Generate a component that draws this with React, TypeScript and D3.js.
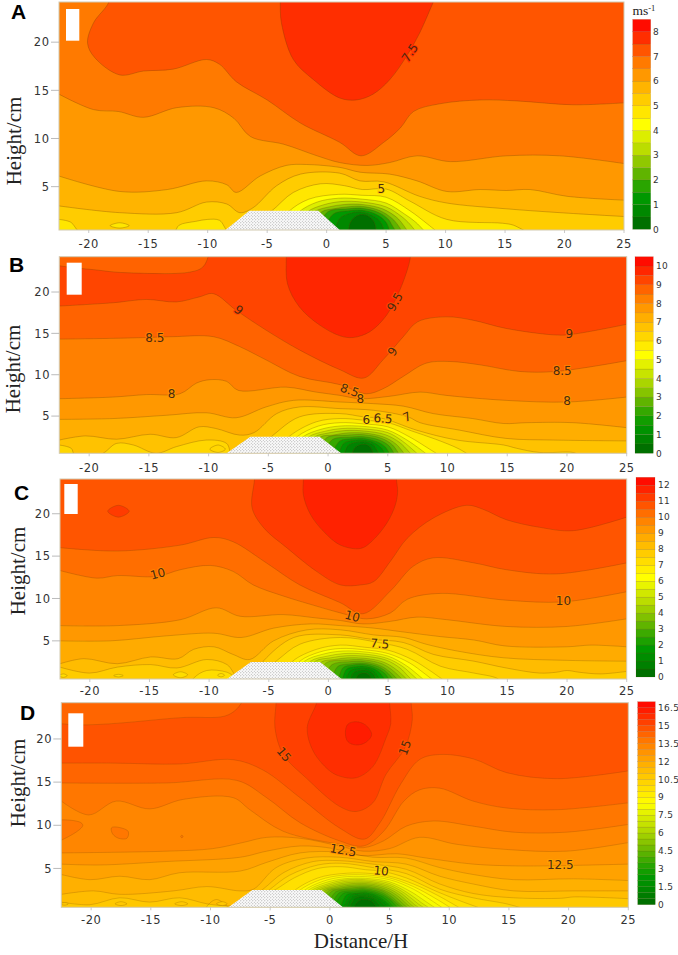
import React from "react";
import * as d3 from "d3";

type P = [number, number];
type Iso = [number, P[]];
type Patch = [number, P[]];
type Lab = [string, number, number, number, number];

const rampColors = ["#007000","#008800","#009800","#2aa500","#60b400","#90c800","#bbdd00","#dcee00","#ffff00","#ffe600","#ffcc00","#ffb400","#ff9800","#ff7a00","#ff5500","#ff2e00","#ff0c00"];
const xTicks = [-20,-15,-10,-5,0,5,10,15,20,25];
const yTicks = [5,10,15,20];
const bump: P[] = [[-8.5,0.5],[-6.5,2.5],[-0.7,2.5],[1.1,0.5]];

const isoA: Iso[] = [
[7.5,[[-3.9,26],[-3.9,24.2],[-3.8,22],[-2.8,18.2],[-1.1,16.1],[1.1,14.2],[2.5,14],[3.9,14.6],[5.3,16.1],[6.7,18.5],[7.8,20.9],[8.7,23.4],[9,24.3],[9.3,26]]],
[7,[[-18.2,26],[-18.3,24.2],[-19.6,22],[-20.1,19.9],[-19.5,18.4],[-17.4,16.6],[-15.4,17],[-12.9,17.2],[-10.1,18.2],[-9,17.7],[-7.6,15.9],[-5,14],[-2.2,11.6],[1.1,9.6],[2.9,8.2],[4.8,9.6],[6.2,11.1],[7.3,12.8],[9.5,13.6],[12.9,14],[16,13.9],[20.7,13.5],[25,13.7]]],
[6.5,[[-22.5,14.6],[-19.6,13],[-17.5,12.8],[-15.4,12.2],[-12.6,13.2],[-9.5,13.2],[-7.8,12.1],[-6.4,10.2],[-3.6,9.4],[-0.8,8.2],[1.1,7.5],[3.4,7.2],[5.3,7.5],[7.6,8.2],[10.4,7.6],[15.1,8.2],[19.6,8.2],[25,7.4]]],
[6,[[-22.5,6.1],[-17.4,4.5],[-13.4,4.7],[-10.1,5.6],[-8.4,5.2],[-7.6,4.4],[-5.6,6.1],[-3.4,7.2],[-1.7,7.3],[1.1,7],[2.8,6.5],[5.3,6.3],[7.6,5.6],[10.1,4.5],[12.9,4.7],[15.1,4.6],[17.1,4.7],[20.2,4],[25,3.6]]],
[5.5,[[-22.5,3],[-17.4,2.3],[-12.6,2.3],[-10.1,3.4],[-8.4,3.2],[-7.3,2.3],[-6.2,2.8],[-4.2,5.1],[-2.2,6.3],[1.1,6.4],[2.8,5.6],[4.8,5.5],[7.8,4],[10.1,3.3],[15.1,2.7],[19.6,2.3],[25,1.9]]],
[5,[[-22.5,1.6],[-21.5,1.3],[-20.8,0.3],[-19,-0.5],[-14,-0.5],[-12.8,0.3],[-12.4,1],[-11,1.4],[-10,1.6],[-9,1.5],[-8.2,0.3],[-6.5,1],[-4.7,2.4],[-2.8,4.4],[-0.5,5.3],[1.5,5.1],[3,4.7],[5,4.75],[7,3.5],[10.1,1.6],[14.8,1.2],[15.7,1],[16.8,0.3]]],
[4.5,[[-4,1],[-3.2,2.4],[-1.5,3.7],[1,4.2],[3,4.1],[5,3.9],[7,2.5],[8.5,1.1],[9.6,0]]],
[4,[[-3.2,1],[-2.3,2.4],[-0.8,3.4],[1,3.8],[3,3.7],[5,3.3],[6.5,2.2],[7.5,1.3],[8.5,0]]],
[3.5,[[-2.5,1],[-1.6,2.4],[-0.3,3.1],[1.2,3.45],[3,3.4],[5,2.9],[6.3,1.9],[7,1.1],[7.7,0]]],
[3,[[-1.8,1],[-1,2.4],[0.2,2.9],[1.5,3.15],[3,3.15],[4.7,2.7],[5.9,1.8],[6.4,1.1],[7,0]]],
[2.5,[[-1.2,1],[-0.4,2.4],[0.6,2.7],[1.7,2.9],[3,2.95],[4.5,2.5],[5.5,1.7],[6,1],[6.5,0]]],
[2,[[-0.6,1],[0.1,2.4],[1.8,2.7],[3,2.75],[4.4,2.3],[5.2,1.6],[5.5,1],[6,0]]],
[1.5,[[-0.1,1],[0.6,2.2],[1.9,2.5],[3,2.55],[4.2,2.1],[5,1.3],[5.4,0]]],
[1,[[0.6,0],[1.1,1.7],[2,2.25],[3,2.35],[4,1.9],[4.6,1.2],[4.9,0]]],
[0.5,[[1.8,0],[2,1.3],[2.5,1.95],[3,2.1],[3.5,1.95],[4,1.3],[4.2,0]]],
];
const patchA: Patch[] = [[4.5,[[-18.2,0.95],[-17.4,1.25],[-16.6,0.95],[-17.4,0.7]]]];
const labelA: Lab[] = [["7.5",7,18.9,-55,7.5],["5",4.6,4.8,0,5]];

const isoB: Iso[] = [
[9.5,[[-3.5,26],[-3.5,24.3],[-3.4,21],[-2.4,18.2],[-0.7,16],[1,14.7],[2.1,14.5],[3.5,15.2],[4.9,17.2],[6,20.2],[6.7,23],[6.9,24.3],[7,26]]],
[9,[[-22.5,18.3],[-18,18.7],[-15.2,19.1],[-12.7,18.8],[-10.8,19.4],[-9.6,19.8],[-7.7,17.8],[-5.2,15.4],[-2.4,13],[1,10.6],[3,9.6],[4.6,11.8],[6.3,14.6],[7.5,16.4],[9.9,17],[12.1,16.6],[14.9,15.6],[19.1,14.8],[20.5,14.9],[25,16.1]]],
[8.5,[[-22.5,14.3],[-18,14.4],[-15.2,14.5],[-13,14.6],[-9.6,14.6],[-7.4,13.4],[-5.2,11.8],[-2.4,9.8],[1,8.8],[3.2,7.7],[4.6,8.3],[6.3,9.8],[8.2,11.4],[10.2,11.6],[12.7,11.2],[16,10.4],[19.1,10.4],[25,11.7]]],
[8,[[-22.5,7.1],[-18,7.3],[-15.2,7.6],[-12.4,7.7],[-11,9],[-9.9,9.4],[-8.5,9.2],[-7.5,8.1],[-3.5,8.5],[-1,7.9],[1,7.5],[2.7,7.1],[5.2,7.4],[7.7,7.9],[9.9,7.5],[14.9,6.9],[20,6.7],[25,7.3]]],
[7.5,[[-22.5,4.6],[-18,4.7],[-13.5,5.1],[-10.2,5.4],[-7.7,4.8],[-5.2,6.1],[-2.9,6.9],[1,6.7],[3.8,6.5],[6.3,6.2],[8.8,5.3],[12.1,4.7],[14.7,4.1],[16.6,4.2],[20.5,4.2],[25,3.6]]],
[7,[[-22.5,2.1],[-20.3,2.6],[-17.7,2.2],[-14.9,2.8],[-12.7,2.4],[-10.8,3.7],[-9.4,3.5],[-7.4,2.7],[-6.2,3],[-4.3,5.3],[-2.4,6.1],[1,5.9],[3.8,5.7],[6.7,4.9],[7.7,4.2],[11,3.3],[14.9,2.3],[18.9,2.1],[25,2]]],
[6.5,[[-22.5,1.5],[-21.5,1.1],[-21.2,0.3],[-19,0.4],[-17.7,1.7],[-16.3,1.5],[-14.4,0.5],[-12.7,1.3],[-10.2,2.1],[-8.5,1.7],[-8,0.3],[-6,1],[-4.6,2.7],[-2.4,4.9],[1,5.3],[3,4.9],[4.6,4.7],[7.4,3.3],[10.8,2.1],[14.7,1.5],[15.8,1.1],[17.7,0.6],[20.5,0.6],[21,0.3]]],
[6,[[-4,1.2],[-3.2,2.6],[-1,4.3],[1,4.7],[3,4.5],[5,4.2],[7,3.2],[9,2.2],[11,1],[12.1,0]]],
[5.5,[[-3.4,1],[-2.6,2.5],[-0.8,3.8],[1,4.2],[3,4.05],[5,3.7],[6.8,2.5],[8.5,1],[9.6,0]]],
[5,[[-3,1],[-2.1,2.5],[-0.6,3.4],[1,3.8],[3,3.75],[5,3.3],[6.5,2.2],[7.8,0.9],[8.6,0]]],
[4.5,[[-2.4,1],[-1.6,2.5],[-0.3,3.15],[1.2,3.5],[3,3.45],[5,3],[6.2,2],[7.2,0.8],[7.8,0]]],
[4,[[-1.9,1],[-1.1,2.5],[0,2.95],[1.4,3.25],[3,3.2],[4.8,2.75],[6,1.8],[6.7,0.8],[7.2,0]]],
[3.5,[[-1.4,1],[-0.6,2.5],[0.4,2.7],[1.5,2.95],[3,2.95],[4.6,2.5],[5.7,1.6],[6.6,0]]],
[3,[[-0.7,1],[-0.1,2.4],[1.6,2.7],[3,2.75],[4.5,2.3],[5.4,1.5],[6.1,0]]],
[2.5,[[-0.2,1],[0.4,2.2],[1.8,2.45],[3,2.5],[4.3,2.1],[5.1,1.4],[5.7,0]]],
[2,[[0.5,1],[1,2],[2,2.25],[3,2.3],[4.1,1.9],[4.8,1.25],[5.3,0]]],
[1.5,[[0.8,0],[1.3,1.7],[2.1,2.05],[3,2.1],[3.9,1.75],[4.5,1.1],[4.9,0]]],
[1,[[1.3,0],[1.7,1.5],[3,1.9],[3.8,1.5],[4.4,0]]],
[0.5,[[1.9,0],[2.3,1.25],[3,1.6],[3.5,1.3],[3.9,0]]],
];
const patchB: Patch[] = [
[8.5,[[-24,24],[-19,22.6],[-16.3,22.3],[-11.6,22.4],[-10.5,23],[-10,24.5],[-10,26],[-24,26]]],
[6,[[-9.9,1],[-9.2,1.5],[-8.6,1],[-9.2,0.6]]],
];
const labelB: Lab[] = [["9",-7.5,17.8,40,9],["8.5",-14.5,14.5,0,8],["8",-13.1,7.7,0,7.5],["9.5",5.6,18.8,-60,9],["9",5.4,12.8,-55,8.5],["8.5",1.8,8.1,20,8],["8",2.7,7.1,0,7.5],["6",3.2,4.5,0,6],["6.5",4.6,4.7,5,6.5],["7",6.6,4.9,-25,7],["9",20.2,14.9,0,8.5],["8.5",19.6,10.4,0,8],["8",20,6.8,0,7.5]];

const isoC: Iso[] = [
[11.5,[[-2.1,26],[-2.1,24.1],[-2.1,22.2],[-1.5,19.9],[-0.4,17.9],[1,16.3],[2.7,15.9],[3.6,16.7],[4.9,18.9],[5.6,21],[5.8,22.6],[5.7,24.1],[5.7,26]]],
[11,[[-6.2,26],[-6.2,24.1],[-6.4,20.7],[-5.4,18.3],[-3.5,16],[-1,13.2],[1,11.6],[2.7,11.6],[3.8,12],[5.2,14.4],[6.6,17.1],[8.8,19.5],[11.6,21],[13,20.5],[14.9,19.3],[17.7,18.4],[20.5,18],[25,19.6]]],
[10.5,[[-22.5,16],[-17.7,15.6],[-12.4,16.3],[-9.6,17.2],[-8,16.7],[-5.2,14.2],[-2.4,11.6],[1,9.5],[2.9,8.2],[5.2,10.9],[7.1,13.8],[8.8,14.8],[12.2,14.2],[14.9,13.4],[19.1,12.9],[25,14.2]]],
[10,[[-22.5,13.3],[-19.4,12.4],[-17.7,12.7],[-14.4,12.6],[-12.4,13.4],[-9.9,13.9],[-8,13.2],[-6.3,11.6],[-3.8,10.3],[-1,9.1],[1,8.3],[3.2,7.6],[5.2,8.3],[6.6,9.9],[9.4,10.6],[14.9,9.8],[19.7,9.6],[25,10.8]]],
[9.5,[[-22.5,6.8],[-17.7,6.8],[-12.4,7.5],[-9.4,8.9],[-7.4,7.9],[-3.8,8.1],[-1,7.7],[1,7.4],[2.9,7],[5.2,7.3],[7.4,7.8],[9.9,7.5],[14.9,6.7],[20,6.7],[25,7.6]]],
[9,[[-22.5,5],[-18.3,5],[-13.5,5.6],[-9.6,5.9],[-7.3,5.4],[-4.6,6.5],[-1.5,7],[1,6.8],[3.8,6.5],[6,6.1],[9.4,5.5],[12.2,5.1],[14.8,4.4],[20,4.3],[22,4.5],[25,4.3]]],
[8.5,[[-22.5,2.3],[-20.5,2.9],[-17.7,2.3],[-14.9,3.1],[-12.6,2.9],[-11.3,4],[-9.6,4.3],[-8,3.4],[-6.6,2.8],[-4.6,5],[-1.8,6.3],[1,6.3],[3.8,5.7],[6.3,5.4],[8.2,4.6],[10.8,3.8],[14.7,3],[20,2.7],[25,2.6]]],
[8,[[-22.5,1.9],[-20,1.2],[-17.7,1.9],[-14.9,2.2],[-12.7,1.8],[-10.2,2.8],[-8.5,2.2],[-7.5,0.6],[-6,1.5],[-5.4,2.7],[-2.9,5.4],[1,5.7],[3.5,5.2],[6.3,4.8],[8.8,3.4],[12.2,2.6],[14.9,1.8],[17.7,1.2],[19.1,1.3],[20,1.5],[21,1.3],[22.8,1.1],[25,1.4]]],
[7.5,[[-22.5,-1],[-12,-1],[-11.3,0.6],[-10.2,1.5],[-8.5,1.3],[-7.6,0.6],[-6,0.8],[-4.3,2.7],[-2.4,4.6],[1,5.4],[4.2,4.8],[6.6,4],[9.4,2],[12.2,1.2],[14.1,0.6],[14.6,0]]],
[7,[[-3.8,1],[-3,2.6],[-1,4],[1,4.5],[3,4.25],[5,3.9],[7,2.8],[8.5,1.5],[10,0]]],
[6.5,[[-3.2,1],[-2.4,2.6],[-0.7,3.7],[1,4.1],[3,3.95],[5,3.5],[6.8,2.4],[8,1.2],[9.1,0]]],
[6,[[-2.8,1],[-2,2.6],[-0.4,3.45],[1.2,3.8],[3,3.7],[5,3.2],[6.5,2.1],[7.5,1],[8.3,0]]],
[5.5,[[-2.3,1],[-1.5,2.6],[-0.1,3.2],[1.3,3.5],[3,3.45],[4.9,2.95],[6.2,2],[7.1,0.9],[7.8,0]]],
[5,[[-1.9,1],[-1.1,2.6],[0.2,3],[1.5,3.25],[3,3.2],[4.8,2.75],[6,1.8],[6.7,0.8],[7.3,0]]],
[4.5,[[-1.4,1],[-0.6,2.5],[0.5,2.8],[1.6,3],[3,2.95],[4.6,2.5],[5.7,1.6],[6.9,0]]],
[4,[[-0.8,1],[-0.2,2.4],[1.7,2.75],[3,2.75],[4.5,2.3],[5.4,1.5],[6.5,0]]],
[3.5,[[-0.2,1],[0.3,2.2],[1.8,2.55],[3,2.55],[4.3,2.1],[5.1,1.4],[6.1,0]]],
[3,[[0.4,1],[0.8,2],[1.9,2.3],[3,2.35],[4.2,1.95],[4.9,1.3],[5.7,0]]],
[2.5,[[0.8,0],[1.2,1.8],[2,2.15],[3,2.2],[4,1.8],[4.7,1.2],[5.3,0]]],
[2,[[1.1,0],[1.5,1.65],[2.2,1.95],[3,2],[3.9,1.65],[4.4,1.1],[4.9,0]]],
[1.5,[[1.4,0],[1.8,1.45],[3,1.8],[3.8,1.45],[4.5,0]]],
[1,[[1.8,0],[2.1,1.25],[3,1.55],[3.7,1.2],[4.1,0]]],
[0.5,[[2.2,0],[2.5,1],[3,1.2],[3.4,1],[3.7,0]]],
];
const patchC: Patch[] = [
[11,[[-18.5,20.3],[-17.6,21],[-16.7,20.3],[-17.6,19.6]]],
[7,[[-22.6,0.9],[-22.2,1.1],[-21.9,0.9],[-22.2,0.7]]],
[7,[[-18,0.9],[-17.6,1.05],[-17.2,0.9],[-17.6,0.75]]],
[7,[[-13,1],[-12.4,1.35],[-11.8,1],[-12.4,0.65]]],
[7,[[-9.3,0.95],[-9,1.15],[-8.7,0.95],[-9,0.75]]],
];
const labelC: Lab[] = [["10",-14.3,12.9,-15,9.5],["10",19.7,9.75,0,9.5],["10",2,7.9,15,9.5],["7.5",4.3,4.65,5,7.5]];

const isoD: Iso[] = [
[15.5,[[-1.1,26],[-1.1,24.3],[-1.9,21.3],[-1.4,18.6],[-0.1,16.4],[0.8,15.7],[2.2,15.5],[3.6,16.8],[4.7,20.1],[5.1,21.8],[5,24.3],[5,26]]],
[15,[[-4.5,26],[-4.5,24.3],[-4.6,21.3],[-3.9,18.2],[-2,15.5],[0.8,12.2],[2.2,11.6],[3.6,12.6],[4.7,15.9],[6.3,19],[6.9,22.2],[6.8,24.3],[6.8,26]]],
[14.5,[[-22.5,17.2],[-18,17.2],[-12.6,17.1],[-8.1,17.6],[-5.6,16.4],[-2.5,13.2],[0.8,9.7],[2.9,8.4],[4.2,10.3],[5.9,14.7],[7.5,17.6],[9.2,18.2],[12,17.7],[14.8,16.1],[19,15.4],[25,16.3]]],
[14,[[-22.5,14.9],[-13.7,14.9],[-7.8,15.2],[-5.3,13.2],[-2.5,10.3],[0.8,8.2],[2.8,7.6],[4.5,9.3],[6.2,12.8],[7.5,14.1],[9.2,14.3],[12,12.8],[14.8,12],[19,11.8],[25,12.6]]],
[13.5,[[-22.5,12.8],[-20.2,11.2],[-17.9,12.8],[-15.1,11.9],[-12.3,13],[-8.1,13.2],[-6.7,11.8],[-3.9,9.3],[0.8,7.8],[2.8,7.4],[4.5,8.2],[6.4,9.9],[8.7,10.5],[12,9.9],[15.4,9.2],[19.8,9.2],[25,10.1]]],
[13,[[-22.5,6.8],[-13.7,7],[-9.8,7.3],[-7.3,8],[-5.3,8.6],[-2.5,8.5],[0.8,7.6],[2.8,7],[5,7.3],[7.5,8.6],[10.6,7.8],[14.8,7.2],[19.8,7],[25,8]]],
[12.5,[[-22.5,5.5],[-19.3,5.4],[-13.7,5.8],[-7.5,6.3],[-5.3,7],[-2.5,7.6],[0.3,7.3],[2.5,6.5],[5.6,6.7],[8.1,6.2],[12,5.5],[15.4,5.3],[18.2,5.3],[25,5.5]]],
[12,[[-22.5,4.3],[-20.1,3.7],[-17.6,4.1],[-15.1,3.7],[-12.6,4.5],[-7.5,4.7],[-5.3,5.7],[-2.5,6.8],[0.8,6.9],[3.6,6.3],[6.4,6.2],[9.2,5.1],[12,4.3],[15.4,3.7],[20.4,3.8],[25,3.6]]],
[11.5,[[-22.5,2],[-19.8,2.4],[-17.6,2],[-13.1,2.4],[-10.3,2.9],[-7.5,2.4],[-6.4,2.6],[-4.5,5.1],[-2,6.2],[0.8,6.3],[3.6,5.8],[6.4,5.5],[9.2,4.1],[12,3.2],[15.4,2.4],[20.4,2.4],[25,2.4]]],
[11,[[-22.5,1.1],[-20.1,0.8],[-17.6,1.6],[-15.1,1.1],[-12.6,1.6],[-10.3,0.9],[-9,0.7],[-7.5,0.8],[-5.6,2.6],[-3.9,4.5],[-1.4,5.8],[0.8,5.9],[3.6,5.5],[6.4,4.9],[9.2,3.2],[12,2.1],[15.4,1.6],[19.4,1.55],[20.4,1.7],[25,1.5]]],
[10.5,[[-22.5,-1],[-10.6,-1],[-10.3,0.6],[-9.5,1.4],[-8.6,0.6],[-7.8,-0.5],[-6,1.5],[-5,2.6],[-3.4,4.2],[-1,5.4],[1,5.6],[3.6,5.1],[6.4,4.4],[9.2,2.6],[12,1.6],[14.8,0.9],[16.1,0.4]]],
[10,[[-22.5,-1],[-8,-1],[-6,1.5],[-4.5,2.6],[-3,3.9],[-1,5],[1,5.2],[3,4.85],[4.3,4.7],[6.4,3.9],[9,2.3],[11,1.2],[12.6,0.4]]],
[9.5,[[-3.8,1],[-3,2.4],[-1,3.9],[1,4.4],[3,4.45],[5,4.1],[7,3.2],[9,1.9],[11.4,0]]],
[9,[[-3.4,1],[-2.6,2.4],[-0.8,3.7],[1,4.2],[3,4.25],[5,3.9],[7,2.9],[9,1.4],[10.6,0]]],
[8.5,[[-3,1],[-2.2,2.4],[-0.6,3.5],[1,4],[3,4.05],[5,3.7],[7,2.6],[8.5,1.3],[9.9,0]]],
[8,[[-2.7,1],[-1.9,2.4],[-0.4,3.35],[1.2,3.8],[3,3.85],[5,3.45],[6.8,2.3],[8,1.2],[9.3,0]]],
[7.5,[[-2.4,1],[-1.6,2.4],[-0.2,3.2],[1.2,3.65],[3,3.7],[5,3.25],[6.5,2.2],[7.7,1],[8.8,0]]],
[7,[[-2.1,1],[-1.3,2.4],[0,3.1],[1.3,3.5],[3,3.55],[5,3.05],[6.3,2.1],[7.4,0.9],[8.4,0]]],
[6.5,[[-1.8,1],[-1,2.4],[0.2,3],[1.4,3.35],[3,3.4],[4.8,2.95],[6.1,2],[7.1,0.8],[8,0]]],
[6,[[-1.5,1],[-0.7,2.4],[0.4,2.9],[1.5,3.2],[3,3.25],[4.7,2.8],[5.9,1.9],[6.8,0.8],[7.6,0]]],
[5.5,[[-1.2,1],[-0.4,2.4],[0.6,2.8],[1.6,3.05],[3,3.1],[4.6,2.65],[5.7,1.8],[6.5,0.8],[7.3,0]]],
[5,[[-0.9,1],[-0.1,2.4],[0.8,2.7],[1.7,2.9],[3,2.95],[4.5,2.5],[5.5,1.7],[6.3,0.7],[7,0]]],
[4.5,[[-0.6,1],[0.2,2.4],[1,2.6],[1.8,2.75],[3,2.8],[4.4,2.4],[5.3,1.6],[6,0.7],[6.7,0]]],
[4,[[-0.1,1],[0.5,2.3],[1.9,2.6],[3,2.65],[4.3,2.25],[5.1,1.55],[5.8,0.7],[6.4,0]]],
[3.5,[[0.2,1],[0.8,2.2],[2,2.45],[3,2.5],[4.2,2.1],[5,1.45],[5.6,0.6],[6.1,0]]],
[3,[[0.5,1],[1.1,2.1],[2,2.3],[3,2.35],[4.1,1.95],[4.8,1.35],[5.3,0.6],[5.8,0]]],
[2.5,[[0.8,0],[1.4,1.95],[2.2,2.15],[3,2.2],[4,1.8],[4.6,1.25],[5.5,0]]],
[2,[[1.1,0],[1.7,1.85],[3,2.05],[3.9,1.7],[4.5,1.15],[5.2,0]]],
[1.5,[[1.3,0],[1.9,1.7],[3,1.9],[3.8,1.55],[4.3,1.05],[4.9,0]]],
[1,[[1.6,0],[2.1,1.55],[3,1.7],[3.7,1.4],[4.5,0]]],
[0.5,[[1.9,0],[2.4,1.25],[3,1.4],[3.5,1.2],[4.1,0]]],
];
const patchD: Patch[] = [
[14,[[-24,22.5],[-12,22.5],[-8.5,22.8],[-7.3,24.5],[-7.3,27],[-24,27]]],
[16,[[2.2,22],[3,21.6],[3.5,20.5],[3,19.6],[2.2,19.3],[1.5,19.7],[1.3,20.7],[1.5,21.7]]],
[13.5,[[-23.5,8],[-21.5,9],[-20.7,10],[-21,10.4],[-23.5,10.3]]],
[13.5,[[-18.3,9.7],[-17.9,9.8],[-16.9,9.3],[-17,8.5],[-17.7,8.5],[-18.2,9]]],
[13.5,[[-12.5,8.7],[-12.4,8.85],[-12.3,8.7],[-12.4,8.55]]],
[10.5,[[-22.6,0.9],[-22.2,1.05],[-21.9,0.9],[-22.2,0.75]]],
[10.5,[[-18,0.9],[-17.5,1.15],[-17,0.9],[-17.5,0.7]]],
[10.5,[[-13,0.9],[-12.4,1.15],[-11.9,0.9],[-12.4,0.7]]],
[10.5,[[-9.5,0.9],[-9,1.15],[-8.6,0.9],[-9,0.7]]],
];
const labelD: Lab[] = [["15",-3.85,18.2,50,14.5],["15",6.3,19,-70,14.5],["12.5",1.1,7.1,10,12.5],["10",4.3,4.7,5,10],["12.5",19.3,5.35,0,12]];

const legendA = [0,1,2,3,4,5,6,7,8];
const legendB = [0,1,2,3,4,5,6,7,8,9,10];
const legendC = [0,1,2,3,4,5,6,7,8,9,10,11,12];
const legendD = [0,1.5,3,4.5,6,7.5,9,10.5,12,13.5,15,16.5];

const panels = [
  {key:"A",iso:isoA,patch:patchA,label:labelA,legend:legendA,max:8.5,L:59,R:624,T:2,B:230,yTop:24.17,box:[66,9,13.3,31.7],lg:[632.7,650.7,19.4,229.3],lgX:653,letter:[11,19],tickY:248,yl:[15,141],yLabX:49.5,lw:0.7},
  {key:"B",iso:isoB,patch:patchB,label:labelB,legend:legendB,max:10.5,L:59.3,R:626.7,T:256.7,B:453.3,yTop:24.27,box:[66.7,262.7,15,32],lg:[635,653.3,256.7,453.3],lgX:656,letter:[9,272],tickY:472,yl:[14,369],yLabX:50,lw:0.65},
  {key:"C",iso:isoC,patch:patchC,label:labelC,legend:legendC,max:12.5,L:60,R:626.7,T:479,B:679,yTop:24.1,box:[64.3,484,13.4,30],lg:[636,655,477.3,677],lgX:658,letter:[14,500],tickY:695,yl:[19,571],yLabX:50.5,lw:0.6},
  {key:"D",iso:isoD,patch:patchD,label:labelD,legend:legendD,max:17,L:61.3,R:628.3,T:702.7,B:907.3,yTop:24.2,box:[68.3,713.3,15,33.4],lg:[637.7,655.3,701.7,904.7],lgX:658,letter:[20,720],tickY:924,yl:[19,783],yLabX:52,lw:0.5},
];

const ramp = d3.scaleLinear<string>()
  .domain(rampColors.map((_, i) => i / (rampColors.length - 1)))
  .range(rampColors);

function bandColor(level: number, max: number) {
  return ramp(level / (max - 0.5));
}

const TICK = '"DejaVu Sans", sans-serif';
const SERIF = '"Liberation Serif", serif';
const LINE = "rgba(105,60,0,0.42)";

function Panel({ p }: { p: (typeof panels)[number] }) {
  const x = d3.scaleLinear().domain([-22.5, 25]).range([p.L, p.R]);
  const y = d3.scaleLinear().domain([0.5, p.yTop]).range([p.B, p.T]);
  const curve = d3.line<P>().x(d => x(d[0])).y(d => y(d[1])).curve(d3.curveCatmullRom.alpha(0.5));
  const closed = d3.line<P>().x(d => x(d[0])).y(d => y(d[1])).curve(d3.curveCatmullRomClosed.alpha(0.5));
  const sorted = [...p.iso].sort((a, b) => a[0] - b[0]);
  const fillPath = (pts: P[]) => {
    const first = pts[0];
    const last = pts[pts.length - 1];
    const tail: P[] = [];
    if (last[1] >= 20 || last[0] >= 24.9) tail.push([last[0], 40]);
    else tail.push([last[0], -5], [40, -5], [40, 40]);
    if (first[0] <= -22.4 || first[1] >= 20) tail.push([first[0], 40]);
    else tail.push([-40, 40], [-40, -5], [first[0], -5]);
    return curve(pts) + tail.map(t => `L${x(t[0])},${y(t[1])}`).join("") + "Z";
  };
  const bands = d3.range(0, p.max, 0.5);
  const clipId = `clip-${p.key}`;
  const trap = bump.map(b => `${x(b[0])},${y(b[1])}`).join(" ");
  return (
    <g>
      <defs>
        <clipPath id={clipId}><rect x={p.L} y={p.T} width={p.R - p.L} height={p.B - p.T} /></clipPath>
      </defs>
      <g clipPath={`url(#${clipId})`}>
        <g filter="url(#soft)">
          <rect x={p.L - 5} y={p.T - 5} width={p.R - p.L + 10} height={p.B - p.T + 10} fill={bandColor(0, p.max)} />
          {sorted.map(([lv, pts]) => (
            <path key={"f" + lv} d={fillPath(pts)} fill={bandColor(lv, p.max)} />
          ))}
          {sorted.map(([lv, pts]) => (
            <path key={"l" + lv} d={curve(pts) || ""} fill="none" stroke={LINE} strokeWidth={p.lw} />
          ))}
          {p.patch.map(([lv, pts], i) => (
            <path key={"p" + i} d={closed(pts) || ""} fill={bandColor(lv, p.max)} stroke={LINE} strokeWidth={p.lw} />
          ))}
          <polygon points={trap} fill="url(#dots)" />
        </g>
      </g>
      <rect x={p.L} y={p.T} width={p.R - p.L} height={p.B - p.T} fill="none" stroke="#d2c9b0" strokeWidth={1} />
      <rect x={p.box[0]} y={p.box[1]} width={p.box[2]} height={p.box[3]} fill="#fff" />
      {p.label.map(([t, lx, ly, rot, band], i) => (
        <text key={i} transform={`translate(${x(lx)},${y(ly)}) rotate(${rot})`} textAnchor="middle" dominantBaseline="central"
          fontFamily={TICK} fontSize={12} fill="#4a2a10" stroke={bandColor(band, p.max)} strokeWidth={2} paintOrder="stroke">{t}</text>
      ))}
      {xTicks.map(t => (
        <g key={t}>
          <line x1={x(t)} x2={x(t)} y1={p.B} y2={p.B + 3} stroke="#bbb" strokeWidth={0.8} />
          <text x={x(t)} y={p.tickY} textAnchor="middle" fontFamily={TICK} fontSize={11.5} letterSpacing={0.5} fill="#333">{t}</text>
        </g>
      ))}
      {yTicks.map(t => (
        <g key={t}>
          <line x1={p.L - 8} x2={p.L} y1={y(t)} y2={y(t)} stroke="#aaa" strokeWidth={0.8} />
          <text x={p.yLabX} y={y(t) + 4.2} textAnchor="end" fontFamily={TICK} fontSize={11.5} letterSpacing={0.5} fill="#333">{t}</text>
        </g>
      ))}
      <text transform={`translate(${p.yl[0] + 6},${p.yl[1]}) rotate(-90)`} textAnchor="middle" fontFamily={SERIF} fontSize={21} fill="#222">Height/cm</text>
      <text x={p.letter[0]} y={p.letter[1]} fontFamily='"Liberation Sans", sans-serif' fontWeight={700} fontSize={21} fill="#000">{p.key}</text>
      <g>
        {bands.map(b => {
          const ly = d3.scaleLinear().domain([0, p.max]).range([p.lg[3], p.lg[2]]);
          return <rect key={b} x={p.lg[0]} width={p.lg[1] - p.lg[0]} y={ly(b + 0.5)} height={ly(b) - ly(b + 0.5)} fill={bandColor(b, p.max)} stroke={LINE} strokeWidth={0.3} />;
        })}
        {p.legend.map(t => {
          const ly = d3.scaleLinear().domain([0, p.max]).range([p.lg[3], p.lg[2]]);
          return <text key={t} x={p.lgX} y={ly(t) + 3.2} fontFamily={TICK} fontSize={9} letterSpacing={0.3} fill="#333">{t}</text>;
        })}
      </g>
    </g>
  );
}

export default function App() {
  return (
    <svg width={678} height={955} style={{ position: "absolute", left: 0, top: 0, display: "block", background: "#fff" }}>
      <defs>
        <filter id="soft" x="-2%" y="-2%" width="104%" height="104%"><feGaussianBlur stdDeviation={0.4} /></filter>
        <pattern id="dots" width={3} height={3} patternUnits="userSpaceOnUse">
          <rect width={3} height={3} fill="#fbfbfb" />
          <circle cx={0.8} cy={0.8} r={0.5} fill="#8f8f8f" />
          <circle cx={2.3} cy={2.3} r={0.5} fill="#a8a8a8" />
        </pattern>
      </defs>
      {panels.map(p => <Panel key={p.key} p={p} />)}
      <text x={632.5} y={15} fontFamily={SERIF} fontSize={13.5} fill="#222">ms<tspan dy={-4} fontSize={8.5}>-1</tspan></text>
      <text x={361} y={948} textAnchor="middle" fontFamily={SERIF} fontSize={21} fill="#222">Distance/H</text>
    </svg>
  );
}
